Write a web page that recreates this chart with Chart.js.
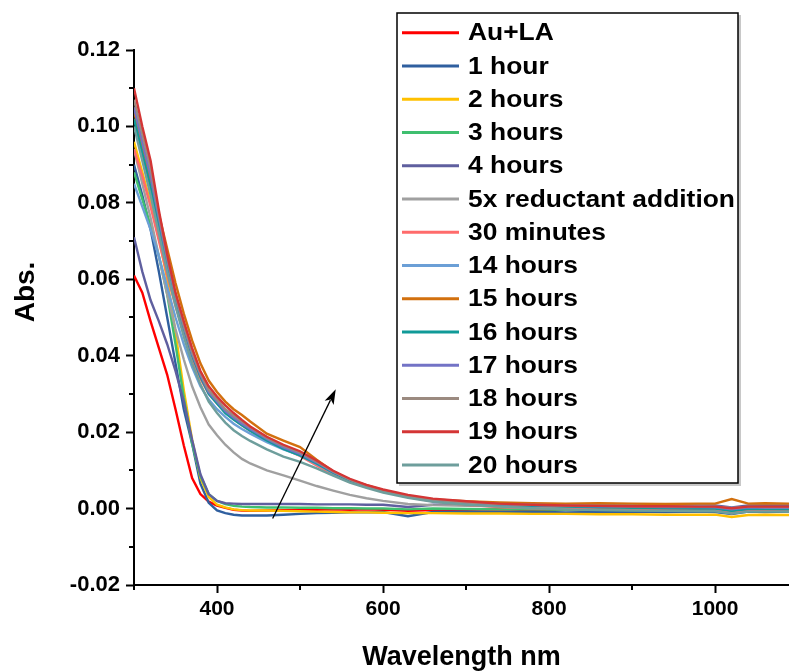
<!DOCTYPE html>
<html><head><meta charset="utf-8">
<script src="https://cdn.jsdelivr.net/npm/chart.js@4.4.1/dist/chart.umd.min.js"></script>
<style>html,body{margin:0;padding:0;background:#fff}#wrap{width:789px;height:671px}</style>
</head><body><div id="wrap"><canvas id="c" width="789" height="671"></canvas></div>
<script>
// Wavelength grid (nm)
const wavelengths = [300,310,320,330,340,350,360,370,380,390,400,410,420,430,440,460,480,500,520,540,560,580,600,630,660,700,740,780,820,860,900,940,980,1000,1020,1040,1060,1090];

const auLA   = [0.061,0.0565,0.049,0.042,0.035,0.026,0.0165,0.008,0.0038,0.0018,0.0008,0.0002,-0.0003,-0.0005,-0.0006,-0.0005,-0.0004,-0.0003,-0.0003,-0.0002,-0.0003,-0.0002,-0.0003,-0.0006,-0.0004,-0.0003,-0.0002,-0.0004,-0.0003,-0.0002,-0.0004,-0.0003,-0.0002,-0.0003,-0.0008,-0.0003,-0.0002,-0.0003];
const hour1  = [0.090,0.082,0.073,0.062,0.050,0.038,0.026,0.017,0.0065,0.0015,-0.0005,-0.0012,-0.0016,-0.0018,-0.0018,-0.0018,-0.0016,-0.0014,-0.0012,-0.0011,-0.0010,-0.0010,-0.0009,-0.0020,-0.0009,-0.0008,-0.0009,-0.0008,-0.0010,-0.0009,-0.0008,-0.0009,-0.0008,-0.0009,-0.0014,-0.0008,-0.0009,-0.0008];
const hours2 = [0.096,0.088,0.080,0.071,0.060,0.046,0.031,0.018,0.008,0.003,0.001,0.0003,-0.0002,-0.0004,-0.0005,-0.0005,-0.0006,-0.0007,-0.0008,-0.0009,-0.0010,-0.0010,-0.0011,-0.0012,-0.0012,-0.0013,-0.0013,-0.0014,-0.0014,-0.0015,-0.0015,-0.0016,-0.0016,-0.0016,-0.0022,-0.0017,-0.0016,-0.0017];
const hours3 = [0.088,0.081,0.074,0.066,0.056,0.043,0.029,0.017,0.0085,0.0038,0.002,0.0012,0.0007,0.0005,0.0004,0.0003,0.0003,0.0002,0.0002,0.0001,0.0001,0.0000,0.0000,-0.0002,0.0000,-0.0001,-0.0002,-0.0002,-0.0003,-0.0003,-0.0004,-0.0004,-0.0005,-0.0005,-0.0009,-0.0005,-0.0006,-0.0006];
const hours4 = [0.071,0.062,0.0545,0.049,0.043,0.036,0.028,0.018,0.009,0.0038,0.002,0.0014,0.0013,0.0012,0.0012,0.0012,0.0012,0.0012,0.0011,0.0011,0.0011,0.0010,0.0010,0.0004,0.0010,0.0010,0.0009,0.0010,0.0009,0.0009,0.0008,0.0009,0.0008,0.0008,0.0003,0.0008,0.0008,0.0008];
const reduct5x = [0.094,0.085,0.076,0.066,0.056,0.047,0.039,0.032,0.0265,0.022,0.0192,0.0167,0.0147,0.0130,0.0118,0.0100,0.0087,0.0073,0.0059,0.0047,0.0036,0.0027,0.0020,0.0012,0.0009,0.0007,0.0006,0.0006,0.0005,0.0005,0.0004,0.0004,0.0004,0.0003,0.0000,0.0003,0.0003,0.0003];
const min30  = [0.094,0.087,0.079,0.070,0.061,0.053,0.046,0.039,0.034,0.030,0.0275,0.0252,0.0234,0.0218,0.0204,0.0179,0.0157,0.0138,0.0113,0.0089,0.0070,0.0056,0.0045,0.0030,0.0019,0.0010,0.0004,0.0001,-0.0001,-0.0002,-0.0003,-0.0003,-0.0004,-0.0004,-0.0012,-0.0004,-0.0005,-0.0005];
const hours14 = [0.085,0.079,0.073,0.066,0.058,0.050,0.043,0.037,0.032,0.0285,0.026,0.024,0.0222,0.0208,0.0196,0.0174,0.0155,0.0139,0.0117,0.0093,0.0074,0.0059,0.0047,0.0033,0.0024,0.0017,0.0013,0.0011,0.0010,0.0009,0.0008,0.0007,0.0006,0.0005,0.0002,0.0002,0.0002,0.0001];
const hours15 = [0.104,0.095,0.086,0.077,0.068,0.059,0.051,0.044,0.038,0.0335,0.0305,0.028,0.026,0.0245,0.0228,0.0196,0.0178,0.0161,0.0128,0.0097,0.0075,0.0061,0.0048,0.0033,0.0024,0.0019,0.0016,0.0014,0.0013,0.0014,0.0013,0.0012,0.0013,0.0013,0.0025,0.0013,0.0014,0.0013];
const hours16 = [0.102,0.093,0.084,0.074,0.064,0.055,0.047,0.040,0.0345,0.030,0.0275,0.025,0.0233,0.0218,0.0204,0.0178,0.0156,0.0139,0.0118,0.0094,0.0074,0.0058,0.0045,0.0031,0.0021,0.0014,0.0010,0.0007,0.0005,0.0003,0.0002,0.0001,0.0000,0.0000,-0.0006,-0.0001,-0.0001,-0.0002];
const hours17 = [0.105,0.096,0.087,0.076,0.065,0.0555,0.0475,0.0405,0.035,0.0305,0.028,0.0255,0.0238,0.0222,0.0208,0.0182,0.0160,0.0143,0.0121,0.0096,0.0076,0.0059,0.0046,0.0032,0.0022,0.0015,0.0011,0.0009,0.0007,0.0006,0.0005,0.0004,0.0004,0.0003,-0.0002,0.0003,0.0002,0.0002];
const hours18 = [0.107,0.098,0.089,0.077,0.066,0.056,0.048,0.041,0.0355,0.031,0.0285,0.026,0.0243,0.0228,0.0213,0.0185,0.0164,0.0147,0.0123,0.0097,0.0076,0.0060,0.0047,0.0033,0.0023,0.0016,0.0012,0.0010,0.0008,0.0007,0.0006,0.0006,0.0005,0.0005,0.0001,0.0005,0.0004,0.0004];
const hours19 = [0.110,0.100,0.091,0.078,0.0665,0.0565,0.049,0.042,0.036,0.032,0.0293,0.027,0.025,0.0232,0.0215,0.0188,0.0167,0.0150,0.0126,0.0099,0.0078,0.0062,0.0050,0.0036,0.0026,0.0019,0.0013,0.0010,0.0008,0.0007,0.0006,0.0006,0.0005,0.0005,0.0001,0.0005,0.0005,0.0005];
const hours20 = [0.100,0.091,0.082,0.072,0.062,0.053,0.045,0.038,0.0325,0.028,0.025,0.0225,0.0205,0.019,0.0177,0.0155,0.0136,0.0122,0.0105,0.0086,0.0068,0.0054,0.0042,0.0028,0.0018,0.0010,0.0005,0.0001,-0.0002,-0.0004,-0.0005,-0.0006,-0.0007,-0.0007,-0.0013,-0.0008,-0.0008,-0.0008];

const seriesLabels = ["Au+LA","1 hour","2 hours","3 hours","4 hours","5x reductant addition","30 minutes","14 hours","15 hours","16 hours","17 hours","18 hours","19 hours","20 hours"];
const seriesValues = [auLA,hour1,hours2,hours3,hours4,reduct5x,min30,hours14,hours15,hours16,hours17,hours18,hours19,hours20];
const seriesColors = ["#ff0000","#2f5f9f","#ffc000","#3fbf6f","#5f5f9f","#a0a0a0","#ff6b6b","#6b9fd6","#d2700e","#109a98","#7373c6","#9b8a80","#d43535","#6e9e9c"];

const xTicks = [400,600,800,1000];
const xMinorTicks = [300,500,700,900];
const yTicks = [-0.02,0.00,0.02,0.04,0.06,0.08,0.10,0.12];
const yMinorTicks = [-0.01,0.01,0.03,0.05,0.07,0.09,0.11];
const yTitle = 'Abs.';
const arrowFrom = {x:467, y:-0.0026};
const arrowTo = {x:543, y:0.0312};

const FONT = "'Liberation Sans', Arial, sans-serif";

const datasets = seriesValues.map((vals, i) => ({
  label: seriesLabels[i],
  data: wavelengths.map((w, j) => ({x: w, y: vals[j]})),
  borderColor: seriesColors[i],
  backgroundColor: seriesColors[i],
  borderWidth: 2.4,
  pointRadius: 0,
  tension: 0,
  fill: false,
  order: seriesValues.length - i
}));

const extrasPlugin = {
  id: 'extras',
  afterDraw(chart) {
    const ctx = chart.ctx;
    const xs = chart.scales.x, ys = chart.scales.y;
    ctx.save();
    // minor ticks
    ctx.strokeStyle = '#000'; ctx.lineWidth = 2;
    xMinorTicks.forEach(v => {
      const px = Math.round(xs.getPixelForValue(v));
      ctx.beginPath(); ctx.moveTo(px, ys.bottom); ctx.lineTo(px, ys.bottom + 5); ctx.stroke();
    });
    yMinorTicks.forEach(v => {
      const py = Math.round(ys.getPixelForValue(v));
      ctx.beginPath(); ctx.moveTo(xs.left - 5, py); ctx.lineTo(xs.left, py); ctx.stroke();
    });
    // y axis title
    ctx.save();
    ctx.translate(26, 292);
    ctx.rotate(-Math.PI / 2);
    ctx.fillStyle = '#000';
    ctx.font = "bold 28px " + FONT;
    ctx.textAlign = 'center'; ctx.textBaseline = 'middle';
    ctx.fillText(yTitle, 0, 0);
    ctx.restore();
    // arrow annotation
    const x1 = xs.getPixelForValue(arrowFrom.x), y1 = ys.getPixelForValue(arrowFrom.y);
    const x2 = xs.getPixelForValue(arrowTo.x), y2 = ys.getPixelForValue(arrowTo.y);
    const ang = Math.atan2(y2 - y1, x2 - x1);
    const hl = 15, hw = 5;
    ctx.lineWidth = 1.3; ctx.strokeStyle = '#000'; ctx.fillStyle = '#000';
    ctx.beginPath(); ctx.moveTo(x1, y1);
    ctx.lineTo(x2 - hl * 0.8 * Math.cos(ang), y2 - hl * 0.8 * Math.sin(ang)); ctx.stroke();
    ctx.beginPath();
    ctx.moveTo(x2, y2);
    ctx.lineTo(x2 - hl * Math.cos(ang) + hw * Math.sin(ang), y2 - hl * Math.sin(ang) - hw * Math.cos(ang));
    ctx.lineTo(x2 - hl * 0.75 * Math.cos(ang), y2 - hl * 0.75 * Math.sin(ang));
    ctx.lineTo(x2 - hl * Math.cos(ang) - hw * Math.sin(ang), y2 - hl * Math.sin(ang) + hw * Math.cos(ang));
    ctx.closePath(); ctx.fill();
    // legend box
    const bx = 397, by = 13, bw = 341, bh = 470;
    ctx.fillStyle = '#c8c8c8';
    ctx.fillRect(bx + 2, by + 2, bw + 1, bh + 1);
    ctx.fillStyle = '#fff';
    ctx.fillRect(bx, by, bw, bh);
    ctx.strokeStyle = '#000'; ctx.lineWidth = 1.5;
    ctx.strokeRect(bx, by, bw, bh);
    const row0 = 32.7, rowH = 33.25;
    chart.data.datasets.forEach((ds, i) => {
      const yy = row0 + i * rowH;
      ctx.strokeStyle = ds.borderColor; ctx.lineWidth = 3;
      ctx.beginPath(); ctx.moveTo(402, yy); ctx.lineTo(459, yy); ctx.stroke();
      ctx.save();
      ctx.translate(468, yy);
      ctx.scale(1.1, 1);
      ctx.fillStyle = '#000';
      ctx.font = "bold 24px " + FONT;
      ctx.textBaseline = 'middle';
      ctx.textAlign = 'left';
      ctx.fillText(ds.label, 0, 1);
      ctx.restore();
    });
    ctx.restore();
  }
};

new Chart(document.getElementById('c'), {
  type: 'line',
  data: { datasets },
  options: {
    responsive: false,
    animation: false,
    events: [],
    layout: { padding: { top: 50, right: 0, bottom: 0, left: 0 } },
    plugins: { legend: { display: false }, tooltip: { enabled: false } },
    scales: {
      x: {
        type: 'linear', min: 300, max: 1089,
        afterBuildTicks(scale) { scale.ticks = xTicks.map(v => ({value: v})); },
        afterFit(scale) { scale.height = 86; },
        ticks: { color: '#000', font: { family: FONT, size: 21, weight: 'bold' }, padding: 4, maxRotation: 0, autoSkip: false, callback: v => String(v) },
        grid: { drawOnChartArea: false, drawTicks: true, tickLength: 8, tickWidth: 2, tickColor: '#000' },
        border: { display: true, color: '#000', width: 2 },
        title: { display: true, text: 'Wavelength nm', color: '#000', font: { family: FONT, size: 27, weight: 'bold', lineHeight: 1.0 }, padding: { top: 0, bottom: 0 } }
      },
      y: {
        type: 'linear', min: -0.02, max: 0.12,
        afterBuildTicks(scale) { scale.ticks = yTicks.map(v => ({value: v})); },
        afterFit(scale) { scale.width = 134; },
        ticks: { color: '#000', font: { family: FONT, size: 22, weight: 'bold' }, padding: 6, autoSkip: false, callback: v => v.toFixed(2) },
        grid: { drawOnChartArea: false, drawTicks: true, tickLength: 8, tickWidth: 2, tickColor: '#000' },
        border: { display: true, color: '#000', width: 2 },
        title: { display: false }
      }
    }
  },
  plugins: [extrasPlugin]
});
</script></body></html>
